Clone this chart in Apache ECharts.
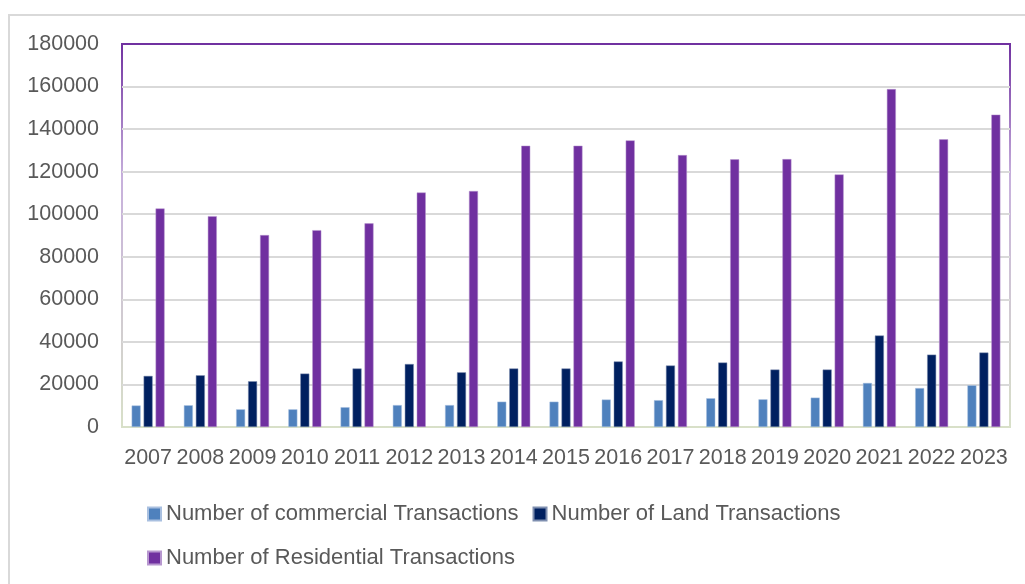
<!DOCTYPE html>
<html>
<head>
<meta charset="utf-8">
<script src="https://cdn.jsdelivr.net/npm/echarts@6/dist/echarts.min.js"></script>
<style>
html,body{margin:0;padding:0;background:#fff;}
#c{width:1025px;height:584px;}
</style>
</head>
<body>
<div id="c"></div>
<script>
const years = ['2007','2008','2009','2010','2011','2012','2013','2014','2015','2016','2017','2018','2019','2020','2021','2022','2023'];
const commercial = [10100,10200,8300,8300,9300,10300,10300,11900,11900,12900,12600,13500,13000,13800,20700,18300,19600];
const land = [24000,24300,21500,25100,27500,29600,25700,27500,27500,30800,28900,30300,27000,27000,43000,34000,35000];
const residential = [102700,99100,90200,92500,95700,110200,110900,132200,132200,134700,127800,125800,125900,118700,158800,135200,146800];
const seriesNames = ['Number of commercial Transactions','Number of Land Transactions','Number of Residential Transactions'];
const yTicks = {min:0, max:180000, interval:20000};

const FONT = 'Liberation Sans';
const chart = echarts.init(document.getElementById('c'), null, {renderer:'canvas'});
const border = new echarts.graphic.LinearGradient(0,0,0,1,[
  {offset:0,color:'#7030a0'},{offset:0.35,color:'#c7b0dc'},{offset:1,color:'#d8e0c8'}]);
const legendText = {fontFamily:FONT,fontSize:22,color:'#595959'};
chart.setOption({
  backgroundColor:'#fff',
  animation:false,
  textStyle:{fontFamily:FONT,color:'#595959'},
  graphic:[{type:'rect',shape:{x:9,y:15,width:1100,height:700},style:{fill:'none',stroke:'#d9d9d9',lineWidth:2},z:-1}],
  grid:{left:122,top:44,width:888,height:383,show:true,borderColor:border,borderWidth:2,backgroundColor:'transparent'},
  legend:[
    {data:[seriesNames[0],seriesNames[1]],left:147,top:503,padding:0,itemWidth:13,itemHeight:13,itemGap:14,icon:'rect',textStyle:legendText},
    {data:[seriesNames[2]],left:147,top:547,padding:0,itemWidth:13,itemHeight:13,icon:'rect',textStyle:legendText}
  ],
  xAxis:{type:'category',data:years,
    axisLine:{show:false},axisTick:{show:false},
    axisLabel:{fontFamily:FONT,fontSize:21.5,color:'#595959',margin:20,interval:0}},
  yAxis:{type:'value',min:yTicks.min,max:yTicks.max,interval:yTicks.interval,
    axisLine:{show:false},axisTick:{show:false},
    splitLine:{showMaxLine:false,showMinLine:false,lineStyle:{color:'#d9d9d9',width:2}},
    axisLabel:{fontFamily:FONT,fontSize:21.5,color:'#595959',margin:23,formatter:v=>String(v)}},
  series:[
    {name:seriesNames[0],type:'bar',data:commercial,barWidth:9,barGap:'33%',itemStyle:{color:'#4f81bd',borderColor:'#a9c0e0',borderWidth:0.5}},
    {name:seriesNames[1],type:'bar',data:land,barWidth:9,barGap:'33%',itemStyle:{color:'#002060',borderColor:'#7f8fb0',borderWidth:0.5}},
    {name:seriesNames[2],type:'bar',data:residential,barWidth:9,barGap:'33%',itemStyle:{color:'#7030a0',borderColor:'#b797cf',borderWidth:0.5}}
  ]
});
</script>
</body>
</html>
